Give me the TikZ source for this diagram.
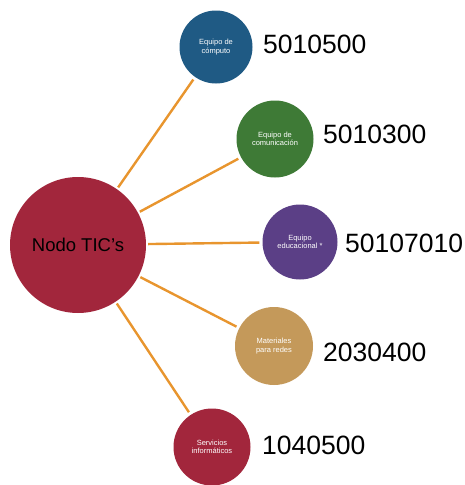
\documentclass[tikz,border=0pt]{standalone}
\usepackage{fontspec}
\setmainfont{Liberation Sans}
\definecolor{cblue}{HTML}{1F5A84}
\definecolor{cgreen}{HTML}{3E7A36}
\definecolor{cpurple}{HTML}{5B3F86}
\definecolor{ctan}{HTML}{C4995A}
\definecolor{cred}{HTML}{A2263C}
\definecolor{corange}{HTML}{E8952E}
\begin{document}
\begin{tikzpicture}[x=1pt,y=-1pt,
  hub/.style={circle,fill=cred,minimum size=136pt,inner sep=0pt,font=\fontsize{18.5}{20}\selectfont,text=black},
  leaf/.style={circle,minimum size=#1,inner sep=0pt,text=white,align=center,font=\fontsize{7.5}{8.5}\selectfont},
  num/.style={anchor=west,inner sep=0pt,font=\fontsize{26.5}{28}\selectfont},
  link/.style={draw=corange,line width=2.4pt,shorten <=2pt,shorten >=3pt}]
\useasboundingbox (0,0) rectangle (465,485);
\node[hub] (hub) at (78,245) {Nodo TIC's};
\node[leaf=73pt,fill=cblue] (a) at (216,47) {Equipo de\\cómputo};
\node[leaf=77pt,fill=cgreen] (b) at (275,139) {Equipo de\\comunicación};
\node[leaf=75pt,fill=cpurple] (c) at (300,242) {Equipo\\educacional *};
\node[leaf=78pt,fill=ctan] (d) at (274,346) {Materiales\\para redes};
\node[leaf=77pt,fill=cred] (e) at (212,447) {Servicios\\informáticos};
\node[num] (na) at (263,44) {5010500};
\node[num] (nb) at (323,134) {5010300};
\node[num] (nc) at (345,243) {50107010};
\node[num] (nd) at (323,352) {2030400};
\node[num] (ne) at (262,445) {1040500};
\foreach \t in {a,b,c,d,e} \draw[link] (hub) -- (\t);
\end{tikzpicture}
\end{document}
